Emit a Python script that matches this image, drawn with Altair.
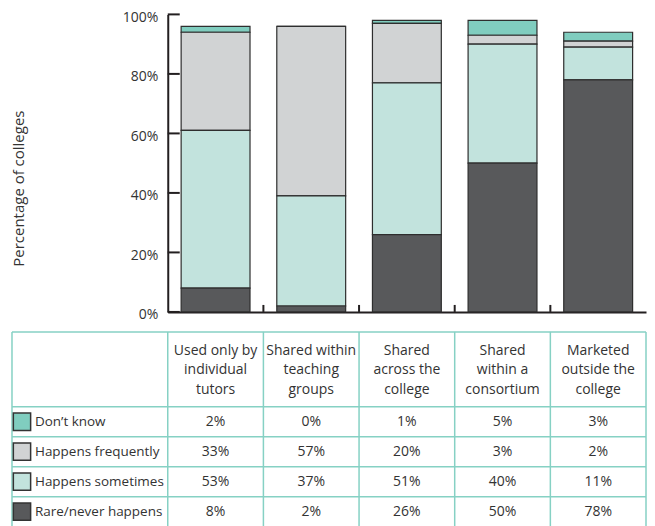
import altair as alt
import pandas as pd

# ---- data ----
categories = [
    "Used only by individual tutors",
    "Shared within teaching groups",
    "Shared across the college",
    "Shared within a consortium",
    "Marketed outside the college",
]
header_labels = [
    "Used only by\nindividual\ntutors",
    "Shared within\nteaching\ngroups",
    "Shared\nacross the\ncollege",
    "Shared\nwithin a\nconsortium",
    "Marketed\noutside the\ncollege",
]
series = ["Don\u2019t know", "Happens frequently", "Happens sometimes", "Rare/never happens"]
dont_know = [2, 0, 1, 5, 3]
happens_frequently = [33, 57, 20, 3, 2]
happens_sometimes = [53, 37, 51, 40, 11]
rare_never = [8, 2, 26, 50, 78]
y_ticks = [0, 20, 40, 60, 80, 100]

colors = ["#80cdbf", "#d1d3d4", "#c2e3dd", "#58595b"]
stack_order = [3, 2, 1, 0]

values_by_series = [dont_know, happens_frequently, happens_sometimes, rare_never]
rows = []
for s, vals, o in zip(series, values_by_series, stack_order):
    for c, v in zip(categories, vals):
        rows.append({"category": c, "series": s, "value": v, "order": o, "label": f"{v}%"})
df = pd.DataFrame(rows)

FONT = "Open Sans"
TXT = "#333333"
LINE = "#231f20"
TEAL = "#86d1c4"

W, H_TOP = 479, 298
H_TAB = 196
LEFT = -156  # table's left border, relative to plot origin

color_enc = alt.Color("series:N", scale=alt.Scale(domain=series, range=colors), legend=None)

x_axis = alt.Axis(labels=False, ticks=False, title=None, domainColor=LINE, domainWidth=2, grid=False)
x_scale = alt.Scale(domain=categories, paddingInner=0, paddingOuter=0)
y_scale = alt.Scale(domain=[0, 100], nice=False)
y_axis = alt.Axis(
    values=y_ticks, labelExpr="datum.value + '%'", ticks=False, tickSize=0, labelPadding=10,
    labelOffset=3,
    labelFont=FONT, labelFontSize=14, labelColor=TXT, domainColor=LINE, domainWidth=2, grid=False,
    title="Percentage of colleges", titleFont=FONT, titleFontSize=15, titleFontWeight="normal",
    titleColor=TXT, titleX=-141, titleY=174,
)

bars = alt.Chart(df).mark_bar(
    width=alt.RelativeBandSize(0.72), stroke="#2e2e2e", strokeWidth=1.2
).encode(
    x=alt.X("category:N", scale=x_scale, axis=x_axis),
    y=alt.Y("value:Q", stack="zero", scale=y_scale, axis=y_axis),
    color=color_enc,
    order=alt.Order("order:Q", sort="ascending"),
)

ytick_df = pd.DataFrame({"value": y_ticks})
yticks = alt.Chart(ytick_df).mark_rule(color=LINE, strokeWidth=2).encode(
    y=alt.Y("value:Q", scale=y_scale, axis=y_axis),
    x=alt.value(0), x2=alt.value(12),
)

xtick_df = pd.DataFrame({"category": categories[1:]})
xticks = alt.Chart(xtick_df).mark_rule(color=LINE, strokeWidth=2).encode(
    x=alt.X("category:N", scale=x_scale, axis=x_axis, bandPosition=0),
    y=alt.value(H_TOP), y2=alt.value(H_TOP - 7),
)

top = alt.layer(bars, yticks, xticks).properties(width=W, height=H_TOP)

# ---- table ----
tx_scale = alt.Scale(domain=categories, paddingInner=0, paddingOuter=0)
ty_scale = alt.Scale(domain=series, range=[75, 195], paddingInner=0, paddingOuter=0)

cells = alt.Chart(df).mark_text(font=FONT, fontSize=14, color=TXT).encode(
    x=alt.X("category:N", scale=tx_scale, axis=None),
    y=alt.Y("series:N", scale=ty_scale, axis=None),
    text="label:N",
)

series_df = pd.DataFrame({"series": series})
row_labels = alt.Chart(series_df).mark_text(font=FONT, fontSize=13.5, color=TXT, align="left").encode(
    x=alt.value(LEFT + 23),
    y=alt.Y("series:N", scale=ty_scale, axis=None),
    text="series:N",
)
swatches = alt.Chart(series_df).mark_square(
    size=300, filled=True, opacity=1, stroke="#333333", strokeWidth=1.5
).encode(
    x=alt.value(LEFT + 10),
    y=alt.Y("series:N", scale=ty_scale, axis=None),
    color=color_enc,
)

hlines = alt.Chart(series_df).mark_rule(color=TEAL, strokeWidth=1.5).encode(
    y=alt.Y("series:N", scale=ty_scale, axis=None, bandPosition=0),
    x=alt.value(LEFT), x2=alt.value(W),
)
hline_top = alt.Chart(series_df.head(1)).mark_rule(color=TEAL, strokeWidth=1.5).encode(
    y=alt.value(0), x=alt.value(LEFT), x2=alt.value(W),
)

cat_df = pd.DataFrame({"category": categories, "header": header_labels})
vlines = alt.Chart(cat_df).mark_rule(color=TEAL, strokeWidth=1.5).encode(
    x=alt.X("category:N", scale=tx_scale, axis=None, bandPosition=0),
    y=alt.value(0), y2=alt.value(H_TAB),
)
vline_left = alt.Chart(cat_df.head(1)).mark_rule(color=TEAL, strokeWidth=1.5).encode(
    x=alt.value(LEFT), y=alt.value(0), y2=alt.value(H_TAB),
)
vline_right = alt.Chart(cat_df.tail(1)).mark_rule(color=TEAL, strokeWidth=1.5).encode(
    x=alt.X("category:N", scale=tx_scale, axis=None, bandPosition=1),
    y=alt.value(0), y2=alt.value(H_TAB),
)

headers = alt.Chart(cat_df).mark_text(
    font=FONT, fontSize=14, color=TXT, lineBreak="\n", lineHeight=19.5, align="center", baseline="middle"
).encode(
    x=alt.X("category:N", scale=tx_scale, axis=None),
    y=alt.value(19),
    text="header:N",
)

table = alt.layer(
    hlines, hline_top, vlines, vline_left, vline_right,
    swatches, row_labels, cells, headers,
).properties(width=W, height=H_TAB)

chart = alt.vconcat(top, table, spacing=9).resolve_scale(
    x="independent", y="independent"
).properties(
    padding={"left": 2, "top": 2, "right": 0, "bottom": 0}
).configure_view(stroke=None)

chart.save("out.html", embed_options={"renderer": "svg", "actions": False})
